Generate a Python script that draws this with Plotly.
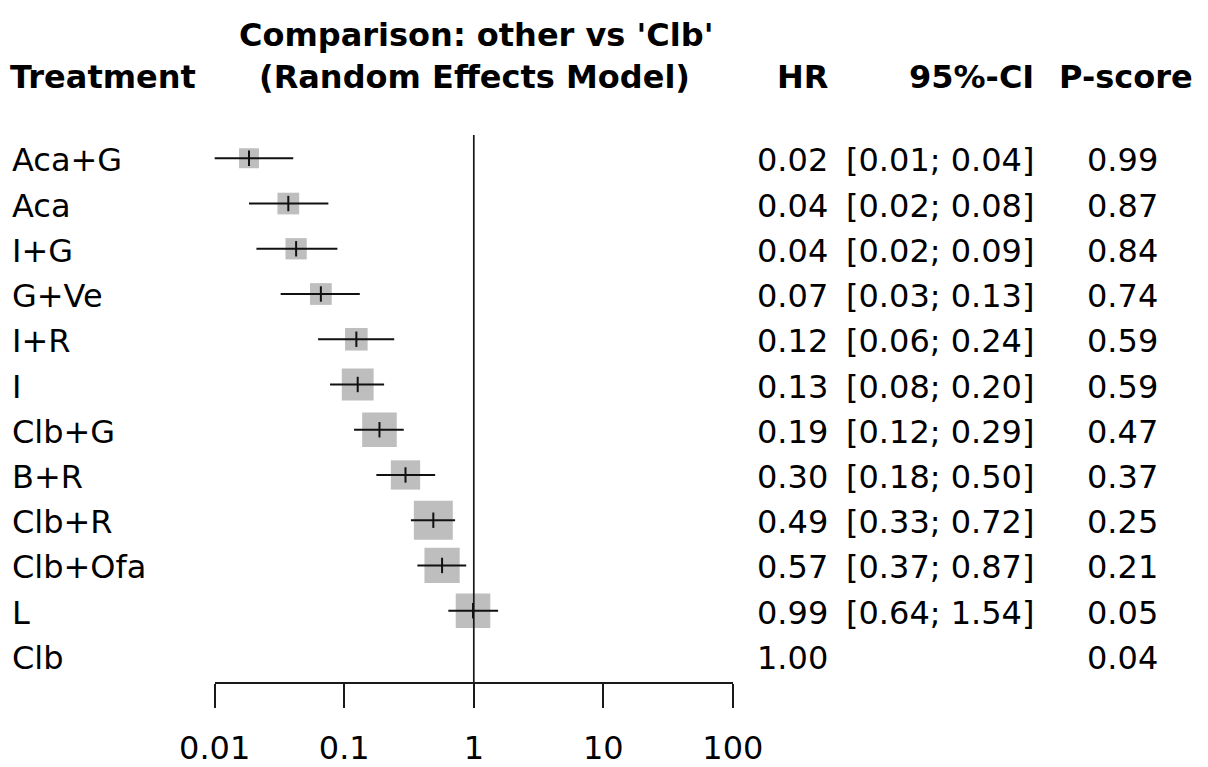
import math
import plotly.graph_objects as go

# Network meta-analysis: hazard ratios of each treatment versus 'Clb'
treatments = ["Aca+G", "Aca", "I+G", "G+Ve", "I+R", "I", "Clb+G", "B+R",
              "Clb+R", "Clb+Ofa", "L", "Clb"]
hr = [0.0184, 0.037, 0.0425, 0.066, 0.124, 0.127, 0.187, 0.297,
      0.487, 0.569, 0.986, 1.0]
ci_lower = [0.0087, 0.0184, 0.021, 0.0323, 0.0628, 0.0777, 0.119, 0.177,
            0.327, 0.367, 0.636, None]
ci_upper = [0.0404, 0.0754, 0.0885, 0.1318, 0.243, 0.203, 0.288, 0.503,
            0.717, 0.874, 1.54, None]
p_score = [0.99, 0.87, 0.84, 0.74, 0.59, 0.59, 0.47, 0.37, 0.25, 0.21,
           0.05, 0.04]
x_ticks = [0.01, 0.1, 1, 10, 100]
x_tick_labels = ["0.01", "0.1", "1", "10", "100"]

W, H = 1208, 767
FONT = "DejaVu Sans, Liberation Sans, Arial, sans-serif"
FS = 32
ROW0_PX, ROW_STEP = 158.3, 45.24   # pixel centre of first row, row spacing
AXIS_PX = 683                      # pixel row of the x axis line
X_LEFT, X_RIGHT = 214.7, 732.9     # pixel extent of the log axis


def px_x(p):
    return p / W


def px_y(p):
    return 1 - p / H


def row_of(p):
    return (p - ROW0_PX) / ROW_STEP


n = len(treatments)
rows = list(range(n))

fig = go.Figure()

# squares sized by precision (1 / standard error on the log scale)
sq_x, sq_y, sq_size = [], [], []
for i in rows:
    if ci_lower[i] is None:
        continue
    se = (math.log(ci_upper[i]) - math.log(ci_lower[i])) / (2 * 1.96)
    sq_x.append(hr[i])
    sq_y.append(i)
    sq_size.append(7.8 / se)
fig.add_trace(go.Scatter(
    x=sq_x, y=sq_y, mode="markers",
    marker=dict(symbol="square", size=sq_size, color="#BEBEBE",
                opacity=1, line=dict(width=0)),
    hoverinfo="skip", showlegend=False))

# reference line at HR = 1
fig.add_trace(go.Scatter(
    x=[1, 1], y=[row_of(135), row_of(AXIS_PX)], mode="lines",
    line=dict(color="#1a1a1a", width=1.7),
    hoverinfo="skip", showlegend=False))

# confidence intervals
ci_x, ci_y = [], []
for i in rows:
    if ci_lower[i] is None:
        continue
    ci_x += [ci_lower[i], ci_upper[i], None]
    ci_y += [i, i, None]
fig.add_trace(go.Scatter(
    x=ci_x, y=ci_y, mode="lines", line=dict(color="#111", width=2),
    hoverinfo="skip", showlegend=False))

# point estimate ticks
fig.add_trace(go.Scatter(
    x=sq_x, y=sq_y, mode="markers",
    marker=dict(symbol="line-ns", size=11,
                line=dict(color="#111", width=2)),
    hoverinfo="skip", showlegend=False))

annotations = []


def add_text(text, x, y, xanchor, yref="y", bold=False, shift=-2):
    annotations.append(dict(
        text=f"<b>{text}</b>" if bold else text,
        x=x, y=y, xref="paper", yref=yref, yshift=shift,
        xanchor=xanchor, yanchor="middle", showarrow=False,
        font=dict(family=FONT, size=FS, color="black")))


for i in rows:
    add_text(treatments[i], px_x(10), i, "left")
    add_text(f"{hr[i]:.2f}", px_x(830), i, "right")
    if ci_lower[i] is not None:
        add_text(f"[{ci_lower[i]:.2f}; {ci_upper[i]:.2f}]", px_x(1036), i,
                 "right")
    add_text(f"{p_score[i]:.2f}", px_x(1160), i, "right")

# column headers
add_text("Treatment", px_x(8), px_y(75), "left", yref="paper", bold=True)
add_text("HR", px_x(830), px_y(75), "right", yref="paper", bold=True)
add_text("95%-CI", px_x(1036), px_y(75), "right", yref="paper", bold=True)
add_text("P-score", px_x(1195), px_y(75), "right", yref="paper", bold=True)
add_text("Comparison: other vs 'Clb'", px_x(476), px_y(33), "center",
         yref="paper", bold=True)
add_text("(Random Effects Model)", px_x(474), px_y(75), "center",
         yref="paper", bold=True)

fig.update_layout(
    width=W, height=H,
    margin=dict(l=0, r=0, t=0, b=0, pad=0, autoexpand=False),
    paper_bgcolor="white", plot_bgcolor="white",
    annotations=annotations,
    xaxis=dict(
        type="log", range=[-2, 2],
        domain=[px_x(X_LEFT), px_x(X_RIGHT)],
        anchor="free", position=px_y(AXIS_PX), automargin=False,
        showline=True, linecolor="#1a1a1a", linewidth=1.7,
        ticks="outside", ticklen=24, tickwidth=1.7, tickcolor="#1a1a1a",
        tickvals=x_ticks, ticktext=x_tick_labels, ticklabelstandoff=13,
        tickfont=dict(family=FONT, size=FS, color="black"),
        showgrid=False, zeroline=False, fixedrange=True),
    yaxis=dict(
        range=[row_of(H), row_of(0)], domain=[0, 1], automargin=False,
        visible=False, showgrid=False, zeroline=False, fixedrange=True),
)

fig.write_html("out.html")
